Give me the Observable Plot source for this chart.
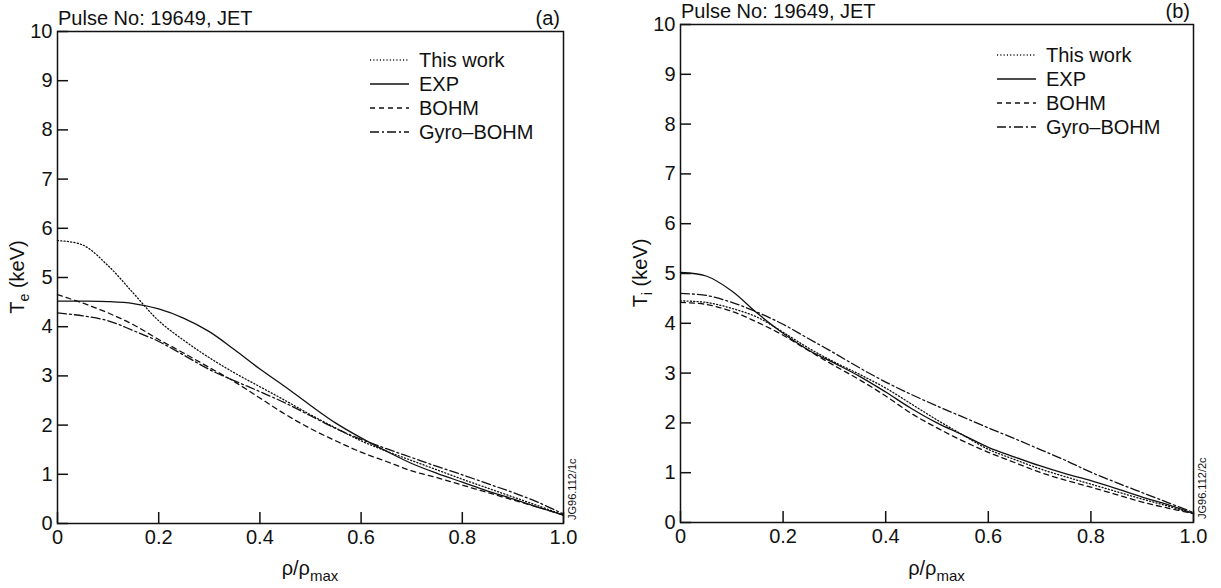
<!DOCTYPE html>
<html><head><meta charset="utf-8">
<script src="https://cdn.jsdelivr.net/npm/d3@7"></script>
<script src="https://cdn.jsdelivr.net/npm/@observablehq/plot@0.6"></script>
<style>
body{margin:0;background:#fff;font-family:"Liberation Sans",Arial,sans-serif;}
#fig{position:relative;width:1221px;height:588px;overflow:hidden;}
#fig svg{position:absolute;top:0;}
</style></head><body><div id="fig"></div>
<script>
// ---- data ----
const rho = [0,0.05,0.1,0.15,0.2,0.25,0.3,0.35,0.4,0.45,0.5,0.55,0.6,0.65,0.7,0.75,0.8,0.85,0.9,0.95,1.0];

// Panel (a): electron temperature Te (keV)
const teThisWork = [5.75,5.66,5.24,4.68,4.12,3.72,3.37,3.06,2.78,2.50,2.21,1.94,1.68,1.47,1.28,1.09,0.90,0.72,0.54,0.36,0.17];
const teEXP      = [4.52,4.52,4.51,4.47,4.36,4.17,3.90,3.53,3.14,2.78,2.40,2.04,1.74,1.47,1.22,1.02,0.84,0.66,0.50,0.33,0.17];
const teBOHM     = [4.65,4.48,4.28,4.04,3.74,3.46,3.17,2.88,2.55,2.22,1.93,1.68,1.45,1.26,1.07,0.93,0.78,0.63,0.48,0.33,0.17];
const teGyroBOHM = [4.28,4.22,4.12,3.92,3.70,3.42,3.13,2.90,2.68,2.45,2.19,1.93,1.71,1.52,1.34,1.16,0.99,0.81,0.63,0.43,0.19];

// Panel (b): ion temperature Ti (keV)
const tiThisWork = [4.45,4.42,4.30,4.12,3.82,3.50,3.22,2.97,2.70,2.38,2.06,1.76,1.47,1.27,1.08,0.92,0.77,0.62,0.47,0.33,0.18];
const tiEXP      = [5.02,4.95,4.65,4.20,3.80,3.46,3.20,2.93,2.62,2.29,2.00,1.76,1.51,1.32,1.14,0.98,0.84,0.68,0.51,0.36,0.18];
const tiBOHM     = [4.42,4.38,4.24,4.02,3.76,3.45,3.15,2.86,2.54,2.19,1.90,1.64,1.41,1.21,1.01,0.85,0.71,0.56,0.41,0.29,0.18];
const tiGyroBOHM = [4.60,4.56,4.42,4.22,3.98,3.69,3.40,3.10,2.82,2.57,2.34,2.12,1.90,1.69,1.47,1.25,1.01,0.80,0.60,0.40,0.20];

const seriesNames = ["This work","EXP","BOHM","Gyro\u2013BOHM"];
const xTicks = [0,0.2,0.4,0.6,0.8,1.0];
const xTickLabels = ["0","0.2","0.4","0.6","0.8","1.0"];
const yTicks = [0,1,2,3,4,5,6,7,8,9,10];
const yTickLabels = ["0","1","2","3","4","5","6","7","8","9","10"];
const pulseTitle = "Pulse No: 19649, JET";

// ---- styles ----
const dash = {"This work":"1.1,2.2","EXP":null,"BOHM":"5,4","Gyro\u2013BOHM":"9,3,2,3"};
const ink = "#111";
const FONT = '"Liberation Sans", Arial, sans-serif';

function panel(cfg){
  const {values, left, width, mL, mT, mB, mR, sub, tag, code, leg} = cfg;
  const H = 588;
  const innerW = width - mL - mR, innerH = H - mT - mB;
  const data = [];
  seriesNames.forEach((s, k) => rho.forEach((r, i) => data.push({s, x: r, y: values[k][i]})));
  const marks = seriesNames.map(s => Plot.line(data.filter(d => d.s === s), {
    x: "x", y: "y", stroke: ink, strokeWidth: 1.3, strokeDasharray: dash[s], curve: "catmull-rom"
  }));
  marks.push(Plot.tickY(yTicks, {y: d => d, stroke: ink, strokeWidth: 1.5, insetRight: innerW - 11}));
  marks.push(Plot.tickX(xTicks, {x: d => d, stroke: ink, strokeWidth: 1.5, insetTop: innerH - 11}));
  marks.push(Plot.frame({stroke: ink, strokeWidth: 1.5}));
  marks.push(Plot.axisY(yTicks, {tickSize: 0, tickPadding: 5, fontSize: 20, label: null,
    tickFormat: d => yTickLabels[yTicks.indexOf(d)]}));
  marks.push(Plot.axisX(xTicks, {tickSize: 0, tickPadding: 6, fontSize: 20, label: null,
    tickFormat: d => xTickLabels[xTicks.indexOf(d)]}));
  const svg = Plot.plot({
    width, height: H, marginLeft: mL, marginTop: mT, marginBottom: mB, marginRight: mR,
    x: {domain: [0, 1]}, y: {domain: [0, 10]},
    style: {fontFamily: FONT, fontSize: "20px", color: ink, background: "transparent", overflow: "visible"},
    marks
  });
  svg.style.left = left + "px";
  const g = d3.select(svg).append("g").attr("fill", ink).attr("text-anchor", "start").style("font-family", FONT);
  // title
  g.append("text").attr("x", mL + 1).attr("y", mT - 6).attr("font-size", 20).attr("text-anchor", "start").text(pulseTitle);
  g.append("text").attr("x", width - mR - 3).attr("y", mT - 6).attr("text-anchor", "end").attr("font-size", 20).text(tag);
  // y label
  const cy = mT + innerH / 2;
  const yl = g.append("text").attr("transform", `translate(${mL - 33},${cy}) rotate(-90)`)
    .attr("text-anchor", "middle").attr("font-size", 20);
  yl.append("tspan").text("T");
  yl.append("tspan").attr("dy", 5).attr("font-size", 14).text(sub);
  yl.append("tspan").attr("dy", -5).text(" (keV)");
  // x label
  const xl = g.append("text").attr("x", mL + innerW / 2).attr("y", H - 13)
    .attr("text-anchor", "middle").attr("font-size", 20);
  xl.append("tspan").text("\u03c1/\u03c1");
  xl.append("tspan").attr("dy", 6).attr("font-size", 15).text("max");
  // code
  g.append("text").attr("transform", `translate(${width - mR + 13},${mT + innerH - 3}) rotate(-90)`)
    .attr("text-anchor", "start").attr("font-size", 11).text(code);
  // legend
  const lg = d3.select(svg).append("g").attr("text-anchor", "start");
  seriesNames.forEach((s, i) => {
    const y = leg.y + i * 24;
    lg.append("line").attr("x1", leg.x).attr("x2", leg.x + 39).attr("y1", y).attr("y2", y)
      .attr("stroke", ink).attr("stroke-width", s === "EXP" ? 1.6 : 1.3)
      .attr("stroke-dasharray", dash[s]);
    lg.append("text").attr("x", leg.x + 49).attr("y", y + 7).attr("font-size", 20)
      .attr("text-anchor", "start").attr("fill", ink).style("font-family", FONT).text(s);
  });
  document.getElementById("fig").appendChild(svg);
}

panel({values: [teThisWork, teEXP, teBOHM, teGyroBOHM], left: 0, width: 610,
  mL: 57, mT: 31, mB: 65, mR: 47, sub: "e", tag: "(a)", code: "JG96.112/1c", leg: {x: 370, y: 60}});
panel({values: [tiThisWork, tiEXP, tiBOHM, tiGyroBOHM], left: 610, width: 611,
  mL: 70, mT: 24, mB: 66, mR: 28, sub: "i", tag: "(b)", code: "JG96.112/2c", leg: {x: 387, y: 55}});
</script></body></html>
